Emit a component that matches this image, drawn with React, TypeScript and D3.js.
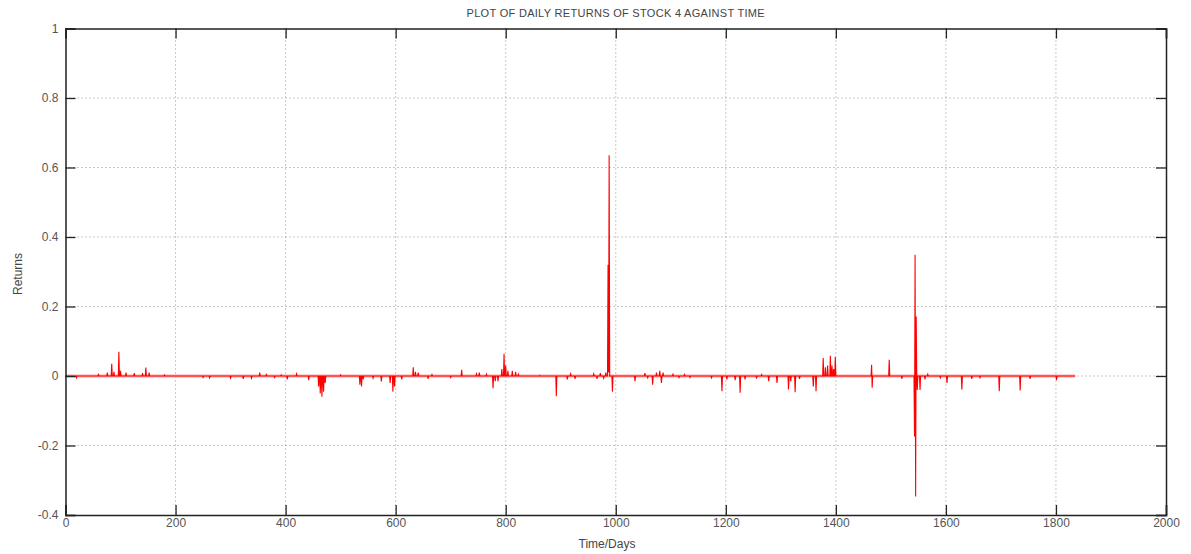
import React, { useEffect, useRef } from 'react';
import * as d3 from 'd3';

// Days on which the return was visibly away from zero
const spikeDays = [
  20, 60, 76, 84, 88, 97, 100, 110, 125, 140, 146, 152, 180, 250, 262, 300, 323, 338, 353, 365,
  380, 392, 403, 420, 442, 460, 463, 466, 469, 472, 500, 535, 538, 541, 559, 574, 590, 595, 598,
  611, 632, 636, 641, 659, 666, 700, 720, 747, 752, 765, 777, 781, 786, 793, 797, 800, 804, 812,
  818, 823, 862, 892, 912, 918, 926, 960, 966, 972, 978, 982, 986, 987, 988, 994, 1035, 1053,
  1058, 1067, 1074, 1080, 1083, 1086, 1104, 1115, 1125, 1135, 1174, 1193, 1202, 1217, 1226, 1235,
  1256, 1265, 1278, 1293, 1314, 1318, 1326, 1334, 1359, 1364, 1377, 1381, 1385, 1390, 1393, 1396,
  1399, 1465, 1466, 1497, 1520, 1543, 1544, 1545, 1546, 1548, 1553, 1562, 1567, 1590, 1602, 1629,
  1647, 1662, 1697, 1735, 1753, 1801,
];

const spikeReturns = [
  -0.005, 0.004, 0.01, 0.035, 0.012, 0.07, 0.015, 0.01, 0.008, 0.008, 0.024, 0.01, 0.003, -0.004,
  -0.005, -0.006, -0.008, -0.006, 0.01, 0.004, -0.004, 0.003, -0.01, 0.006, -0.012, -0.03, -0.05,
  -0.06, -0.045, -0.02, 0.003, -0.025, -0.03, -0.01, -0.006, -0.016, -0.02, -0.045, -0.03, -0.01,
  0.025, 0.012, 0.01, -0.008, 0.004, -0.004, 0.018, 0.006, 0.01, 0.005, -0.035, -0.015, -0.015,
  0.02, 0.064, 0.03, 0.015, 0.015, 0.012, 0.005, 0.002, -0.058, -0.01, 0.006, -0.008, 0.006,
  -0.008, 0.008, -0.006, 0.01, 0.32, 0.01, 0.635, -0.045, -0.015, 0.008, -0.005, -0.025, 0.01,
  0.015, -0.02, 0.01, 0.005, -0.004, 0.004, -0.004, -0.005, -0.044, -0.01, -0.012, -0.048, -0.01,
  -0.005, 0.004, -0.015, -0.02, -0.039, -0.015, -0.047, -0.008, -0.03, -0.044, 0.052, 0.025, 0.03,
  0.058, 0.03, 0.02, 0.055, 0.032, -0.034, 0.047, -0.008, -0.174, 0.349, -0.347, 0.171, -0.04,
  -0.04, -0.01, 0.005, -0.005, -0.02, -0.039, -0.008, -0.005, -0.044, -0.042, -0.008, -0.012,
];

const lastDay = 1835;

const xTicks = [0, 200, 400, 600, 800, 1000, 1200, 1400, 1600, 1800, 2000];
const yTicks = [-0.4, -0.2, 0, 0.2, 0.4, 0.6, 0.8, 1];
const yTickLabels = ['-0.4', '-0.2', '0', '0.2', '0.4', '0.6', '0.8', '1'];

const width = 1191;
const height = 554;
const margin = { top: 28.5, right: 25, bottom: 39, left: 65.5 };
const font = '"Liberation Sans", Arial, sans-serif';

export default function App() {
  const ref = useRef<SVGSVGElement>(null);

  useEffect(() => {
    const svg = d3.select(ref.current);
    svg.selectAll('*').remove();

    const innerW = width - margin.left - margin.right;
    const innerH = height - margin.top - margin.bottom;

    const lookup = new Map(spikeDays.map((d, i) => [d, spikeReturns[i]]));
    const series = d3.range(0, lastDay + 1).map(day => ({ day, r: lookup.get(day) ?? 0 }));

    const x = d3.scaleLinear().domain([0, 2000]).range([0, innerW]);
    const y = d3.scaleLinear().domain([-0.4, 1]).range([innerH, 0]);

    const g = svg.append('g').attr('transform', `translate(${margin.left},${margin.top})`);

    // dotted grid
    g.selectAll('.vgrid')
      .data(xTicks.slice(1, -1))
      .enter()
      .append('line')
      .attr('x1', d => x(d))
      .attr('x2', d => x(d))
      .attr('y1', 0)
      .attr('y2', innerH)
      .attr('stroke', '#777')
      .attr('stroke-width', 0.8)
      .attr('stroke-dasharray', '1,3');

    g.selectAll('.hgrid')
      .data(yTicks.slice(1, -1))
      .enter()
      .append('line')
      .attr('x1', 0)
      .attr('x2', innerW)
      .attr('y1', d => y(d))
      .attr('y2', d => y(d))
      .attr('stroke', '#777')
      .attr('stroke-width', 0.8)
      .attr('stroke-dasharray', '1,3');

    // soft band where the daily noise hugs zero
    g.append('line')
      .attr('x1', x(0))
      .attr('x2', x(lastDay))
      .attr('y1', y(0))
      .attr('y2', y(0))
      .attr('stroke', '#ffa8a8')
      .attr('stroke-width', 3);

    // returns line
    const line = d3
      .line<{ day: number; r: number }>()
      .x(d => x(d.day))
      .y(d => y(d.r));

    g.append('path')
      .datum(series)
      .attr('fill', 'none')
      .attr('stroke', '#ff0000')
      .attr('stroke-width', 1.1)
      .attr('d', line);

    // axes (ticks inside, both sides)
    const tickLen = 10;
    const xBottom = d3
      .axisBottom(x)
      .tickValues(xTicks)
      .tickSize(-tickLen)
      .tickPadding(3)
      .tickFormat(d3.format('d'));
    const xTop = d3.axisTop(x).tickValues(xTicks).tickSize(-tickLen).tickFormat(() => '');
    const yLeft = d3
      .axisLeft(y)
      .tickValues(yTicks)
      .tickSize(-tickLen)
      .tickPadding(7)
      .tickFormat((d, i) => yTickLabels[i]);
    const yRight = d3.axisRight(y).tickValues(yTicks).tickSize(-tickLen).tickFormat(() => '');

    const styleAxis = (sel: any) => {
      sel.select('.domain').attr('stroke', '#222').attr('stroke-width', 1.5);
      sel.selectAll('.tick line').attr('stroke', '#222').attr('stroke-width', 1.3);
      sel
        .selectAll('text')
        .attr('fill', '#555')
        .style('font-family', font)
        .style('font-size', '12px');
    };

    g.append('g').attr('transform', `translate(0,${innerH})`).call(xBottom).call(styleAxis);
    g.append('g').call(xTop).call(styleAxis);
    g.append('g').call(yLeft).call(styleAxis);
    g.append('g').attr('transform', `translate(${innerW},0)`).call(yRight).call(styleAxis);

    // labels
    svg
      .append('text')
      .attr('x', margin.left + innerW / 2)
      .attr('y', 17)
      .attr('text-anchor', 'middle')
      .attr('fill', '#444')
      .style('font-family', font)
      .style('font-size', '11px')
      .style('letter-spacing', '0.3px')
      .text('PLOT OF DAILY RETURNS OF STOCK 4 AGAINST TIME');

    svg
      .append('text')
      .attr('x', 607)
      .attr('y', 548)
      .attr('text-anchor', 'middle')
      .attr('fill', '#444')
      .style('font-family', font)
      .style('font-size', '12px')
      .text('Time/Days');

    svg
      .append('text')
      .attr('transform', 'translate(22,274) rotate(-90)')
      .attr('text-anchor', 'middle')
      .attr('fill', '#444')
      .style('font-family', font)
      .style('font-size', '12px')
      .text('Returns');
  }, []);

  return (
    <svg
      ref={ref}
      width={width}
      height={height}
      style={{ position: 'absolute', left: 0, top: 0, background: '#fff' }}
    />
  );
}
